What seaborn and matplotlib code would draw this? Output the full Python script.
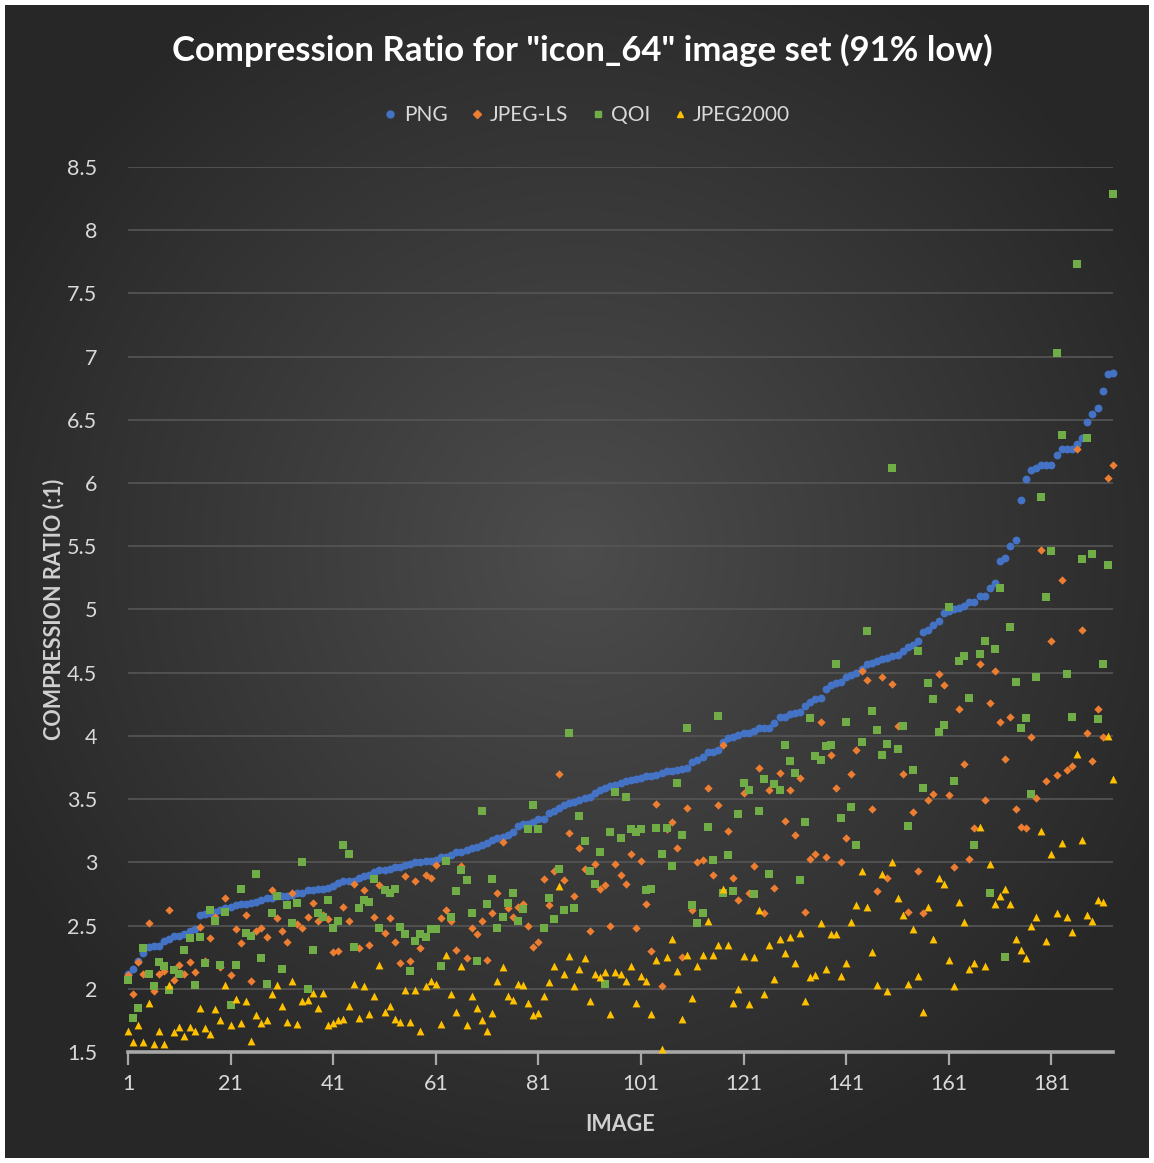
import numpy as np
import pandas as pd
import matplotlib
matplotlib.use('Agg')
import matplotlib.pyplot as plt
from matplotlib.lines import Line2D
import seaborn as sns

# compression ratios per image (images 1..193)
png = [
    2.12, 2.16, 2.22, 2.28, 2.33, 2.34, 2.34, 2.38, 2.39, 2.42,
    2.42, 2.43, 2.46, 2.47, 2.58, 2.59, 2.60, 2.61, 2.62, 2.64,
    2.65, 2.66, 2.67, 2.67, 2.68, 2.69, 2.70, 2.72, 2.72, 2.73,
    2.73, 2.73, 2.74, 2.76, 2.76, 2.78, 2.78, 2.79, 2.79, 2.80,
    2.81, 2.84, 2.85, 2.85, 2.85, 2.88, 2.89, 2.90, 2.92, 2.94,
    2.94, 2.95, 2.96, 2.96, 2.98, 2.99, 3.00, 3.00, 3.01, 3.01,
    3.02, 3.04, 3.04, 3.06, 3.08, 3.08, 3.10, 3.11, 3.12, 3.14,
    3.15, 3.18, 3.19, 3.20, 3.22, 3.24, 3.29, 3.30, 3.30, 3.32,
    3.34, 3.34, 3.39, 3.41, 3.43, 3.45, 3.47, 3.48, 3.49, 3.51,
    3.52, 3.55, 3.57, 3.59, 3.60, 3.61, 3.63, 3.64, 3.65, 3.66,
    3.67, 3.68, 3.68, 3.69, 3.71, 3.72, 3.72, 3.73, 3.74, 3.75,
    3.79, 3.81, 3.83, 3.87, 3.87, 3.89, 3.95, 3.98, 3.99, 4.01,
    4.02, 4.02, 4.04, 4.06, 4.06, 4.06, 4.10, 4.15, 4.15, 4.17,
    4.18, 4.19, 4.24, 4.27, 4.29, 4.30, 4.37, 4.40, 4.42, 4.43,
    4.47, 4.48, 4.50, 4.53, 4.57, 4.58, 4.59, 4.61, 4.62, 4.63,
    4.64, 4.67, 4.70, 4.72, 4.75, 4.82, 4.84, 4.88, 4.91, 4.97,
    4.99, 5.00, 5.01, 5.03, 5.06, 5.06, 5.11, 5.11, 5.17, 5.21,
    5.38, 5.41, 5.50, 5.55, 5.87, 6.03, 6.10, 6.12, 6.14, 6.14,
    6.14, 6.22, 6.27, 6.27, 6.27, 6.31, 6.36, 6.48, 6.55, 6.59,
    6.73, 6.86, 6.87,
]

jpeg_ls = [
    2.11, 1.96, 2.21, 2.12, 2.52, 1.98, 2.12, 2.14, 2.62, 2.07,
    2.19, 2.12, 2.21, 2.13, 2.49, 2.22, 2.40, 2.57, 2.17, 2.72,
    2.11, 2.47, 2.36, 2.58, 2.06, 2.46, 2.48, 2.41, 2.78, 2.56,
    2.46, 2.37,
    2.76, 2.51, 2.48, 2.57, 2.68, 2.54, 2.58, 2.55, 2.29, 2.30,
    2.65, 2.54, 2.83, 2.32, 2.78, 2.35, 2.57, 2.82, 2.44, 2.56,
    2.37, 2.20, 2.89, 2.22, 2.85, 2.32, 2.90, 2.88, 2.98, 2.56,
    2.62, 2.54,
    2.31, 2.97, 2.24, 2.48, 2.43, 2.54, 2.23, 2.60, 2.76, 3.16,
    2.64, 2.57, 2.65, 2.67, 2.50, 2.33, 2.37, 2.87, 2.66, 2.93,
    3.70, 2.86, 3.23, 2.73, 3.11, 2.95, 2.46, 2.99, 2.79, 2.82,
    2.50, 2.99,
    2.90, 2.83, 3.07, 2.48, 3.01, 2.67, 2.30, 3.46, 2.02, 3.26,
    3.32, 3.11, 2.25, 3.43, 2.62, 3.00, 3.02, 3.59, 2.90, 3.45,
    3.93, 3.25, 2.88, 2.70, 3.55, 2.76, 2.97, 3.75, 2.60, 3.57,
    2.80, 3.71, 3.33,
    3.57, 3.22, 3.67, 2.61, 3.03, 3.07, 4.11, 3.04, 3.85, 3.59,
    3.00, 3.19, 3.70, 3.89, 4.51, 4.44, 3.42, 2.77, 4.47, 2.88,
    4.41, 4.08, 3.70, 2.61, 3.40, 2.93, 2.60, 3.49, 3.54, 4.49,
    4.40,
    3.53, 2.96, 4.21, 3.78, 3.03, 3.27, 4.57, 3.49, 4.26, 4.51,
    4.11, 3.82, 4.15, 3.42, 3.28, 3.27, 3.99, 3.51, 5.47, 3.64,
    4.75, 3.69, 5.23, 3.73, 3.76, 6.27, 4.84, 4.02, 3.80, 4.21,
    3.99, 6.04, 6.14,
]

qoi = [
    2.07, 1.77, 1.85, 2.32, 2.12, 2.02, 2.21, 2.18, 1.99, 2.15,
    2.12, 2.31, 2.40, 2.03, 2.41, 2.20, 2.62, 2.54, 2.19, 2.61,
    1.87, 2.19, 2.79, 2.44, 2.42, 2.91, 2.24, 2.04, 2.60, 2.73,
    2.16, 2.66,
    2.52, 2.68, 3.00, 2.00, 2.31, 2.60, 2.57, 2.70, 2.48, 2.54,
    3.14, 3.07, 2.33, 2.64, 2.70, 2.69, 2.87, 2.48, 2.78, 2.76,
    2.79, 2.49, 2.43, 2.14, 2.38, 2.43, 2.41, 2.47, 2.47, 2.18,
    3.01, 2.57,
    2.77, 2.94, 2.86, 2.60, 2.22, 3.41, 2.67, 2.87, 2.48, 2.57,
    2.68, 2.76, 2.54, 2.63, 3.26, 3.45, 3.26, 2.48, 2.72, 2.55,
    2.95, 2.62, 4.02, 2.64, 3.37, 3.17, 2.93, 2.83, 3.08, 2.04,
    3.24, 3.56,
    3.19, 3.52, 3.26, 3.24, 3.26, 2.78, 2.79, 3.27, 3.07, 3.27,
    2.97, 3.63, 3.22, 4.06, 2.66, 2.52, 2.60, 3.28, 3.02, 4.16,
    2.76, 3.06, 2.77, 3.38, 3.63, 3.57, 2.75, 3.41, 3.66, 2.91,
    3.62, 3.57,
    3.93, 3.80, 3.71, 2.86, 3.32, 4.14, 3.84, 3.81, 3.92, 3.93,
    4.57, 3.35, 4.11, 3.44, 3.14, 3.95, 4.83, 4.20, 4.05, 3.85,
    3.94, 6.12, 3.90, 4.08, 3.29, 3.73, 4.67, 3.59, 4.42, 4.29,
    4.03, 4.09, 5.02,
    3.64, 4.59, 4.63, 4.30, 3.14, 4.65, 4.75, 2.76, 4.69, 5.17,
    2.25, 4.86, 4.43, 4.06, 4.14, 3.54, 4.47, 5.89, 5.10, 5.46,
    7.03, 6.38, 4.49, 4.15, 7.73, 5.40, 6.36, 5.44, 4.13, 4.57,
    5.35, 8.29,
]

jpeg2000 = [
    1.67, 1.58, 1.71, 1.58, 1.89, 1.56, 1.67, 1.56, 2.03, 1.66,
    1.70, 1.63, 1.70, 1.67, 1.85, 1.69, 1.64, 1.84, 1.75, 2.03,
    1.71, 1.92, 1.73, 1.90, 1.59, 1.79, 1.73, 1.75, 1.96, 2.03,
    1.86, 1.74,
    2.06, 1.72, 1.90, 1.91, 1.97, 1.85, 1.97, 1.71, 1.73, 1.75,
    1.76, 1.86, 2.04, 1.77, 2.02, 1.80, 1.94, 2.19, 1.82, 1.86,
    1.76, 1.74, 1.99, 1.74, 1.99, 1.67, 2.02, 2.06, 2.04, 1.72,
    2.27, 1.96,
    1.82, 2.18, 1.71, 1.94, 1.85, 1.75, 1.67, 1.81, 2.06, 2.17,
    1.94, 1.91, 2.04, 2.03, 1.89, 1.79, 1.81, 1.94, 2.05, 2.18,
    2.81, 2.12, 2.26, 2.02, 2.16, 2.24, 1.90, 2.12, 2.09, 2.13,
    1.80, 2.13,
    2.12, 2.06, 2.18, 1.89, 2.10, 2.06, 1.80, 2.23, 1.52, 2.25,
    2.39, 2.14, 1.76, 2.27, 1.93, 2.18, 2.27, 2.54, 2.27, 2.35,
    2.79, 2.35, 1.89, 2.00, 2.26, 1.88, 2.25, 2.62, 1.96, 2.35,
    2.08, 2.39, 2.28,
    2.41, 2.20, 2.44, 1.90, 2.09, 2.11, 2.52, 2.16, 2.43, 2.43,
    2.10, 2.20, 2.53, 2.66, 2.93, 2.65, 2.29, 2.03, 2.91, 1.98,
    3.00, 2.72, 2.58, 2.04, 2.47, 2.10, 1.82, 2.65, 2.39, 2.88,
    2.83,
    2.23, 2.02, 2.69, 2.53, 2.16, 2.20, 3.28, 2.18, 2.99, 2.67,
    2.73, 2.79, 2.67, 2.39, 2.31, 2.24, 2.50, 2.57, 3.25, 2.38,
    3.07, 2.60, 3.15, 2.57, 2.45, 3.86, 3.18, 2.58, 2.54, 2.70,
    2.69, 4.00, 3.66,
]

series_names = ['PNG', 'JPEG-LS', 'QOI', 'JPEG2000']
colors = {'PNG': '#4472C4', 'JPEG-LS': '#ED7D31', 'QOI': '#70AD47', 'JPEG2000': '#FFC000'}
markers = {'PNG': 'o', 'JPEG-LS': 'D', 'QOI': 's', 'JPEG2000': '^'}
sizes = {'PNG': 32, 'JPEG-LS': 18, 'QOI': 28, 'JPEG2000': 32}

frames = []
for name, vals in zip(series_names, [png, jpeg_ls, qoi, jpeg2000]):
    frames.append(pd.DataFrame({'image': np.arange(1, len(vals) + 1), 'ratio': vals, 'codec': name}))
df = pd.concat(frames, ignore_index=True)

sns.set_style('dark')
plt.rcParams['font.family'] = ['Lato', 'DejaVu Sans']

fig = plt.figure(figsize=(11.54, 11.63), dpi=100, facecolor='white')

# dark radial gradient background with a thin white frame
bg = fig.add_axes([0.0045, 0.0045, 0.991, 0.991])
yy, xx = np.mgrid[-1:1:400j, -1:1:400j]
r = np.sqrt((xx * 0.95) ** 2 + ((yy + 0.05) * 0.95) ** 2)
shade = np.clip(0.30 - 0.135 * r, 0.155, 0.30)
bg.imshow(np.dstack([shade] * 3), aspect='auto', extent=(0, 1, 0, 1))
bg.set_axis_off()

ax = fig.add_axes([128 / 1154, 1 - 1052 / 1163, (1113 - 128) / 1154, (1052 - 167) / 1163])
ax.patch.set_alpha(0)

ax.set_ylim(1.5, 8.5)
ax.set_xlim(1, 193)
ax.set_yticks(np.arange(1.5, 8.51, 0.5))
ax.set_yticklabels(['1.5', '2', '2.5', '3', '3.5', '4', '4.5', '5', '5.5', '6', '6.5', '7', '7.5', '8', '8.5'])
ax.set_xticks(np.arange(1, 182, 20))
ax.grid(axis='y', color='#565656', linewidth=1.2, zorder=0)
ax.grid(axis='x', visible=False)
ax.set_axisbelow(True)

for name in series_names:
    sub = df[df['codec'] == name]
    sns.scatterplot(data=sub, x='image', y='ratio', ax=ax, color=colors[name], marker=markers[name],
                    s=sizes[name], linewidth=0, legend=False, zorder=3, clip_on=False)

for side in ['top', 'right', 'left']:
    ax.spines[side].set_visible(False)
ax.spines['bottom'].set_color('#a8a8a8')
ax.spines['bottom'].set_linewidth(2.6)
ax.spines['bottom'].set_zorder(2)

ax.tick_params(axis='x', direction='out', length=9, width=1.6, color='#a8a8a8', labelsize=15.5,
               labelcolor='#d9d9d9', pad=7, bottom=True)
ax.tick_params(axis='y', length=0, labelsize=15.5, labelcolor='#d9d9d9', pad=22)

ax.set_xlabel('IMAGE', fontsize=15.5, fontweight='bold', color='#d0d0d0', labelpad=14)
ax.set_ylabel('COMPRESSION RATIO (:1)', fontsize=15.5, fontweight='bold', color='#d0d0d0', labelpad=12)
ax.yaxis.set_label_coords(-(128 - 64) / 985, 0.5)

fig.text(0.505, 1 - 50 / 1163, 'Compression Ratio for "icon_64" image set (91% low)',
         ha='center', va='center', fontsize=25, fontweight='bold', color='white')

handles = [Line2D([], [], linestyle='none', marker=markers[n], color=colors[n],
                  markersize=5 if n != 'JPEG-LS' else 4, label=n) for n in series_names]
fig.legend(handles=handles, loc='center', bbox_to_anchor=(0.507, 1 - 115 / 1163), ncol=4,
           frameon=False, fontsize=15, labelcolor='#d9d9d9', handletextpad=0.15,
           columnspacing=0.9, handlelength=1.0)

fig.savefig('out.png', dpi=100, facecolor='white')
